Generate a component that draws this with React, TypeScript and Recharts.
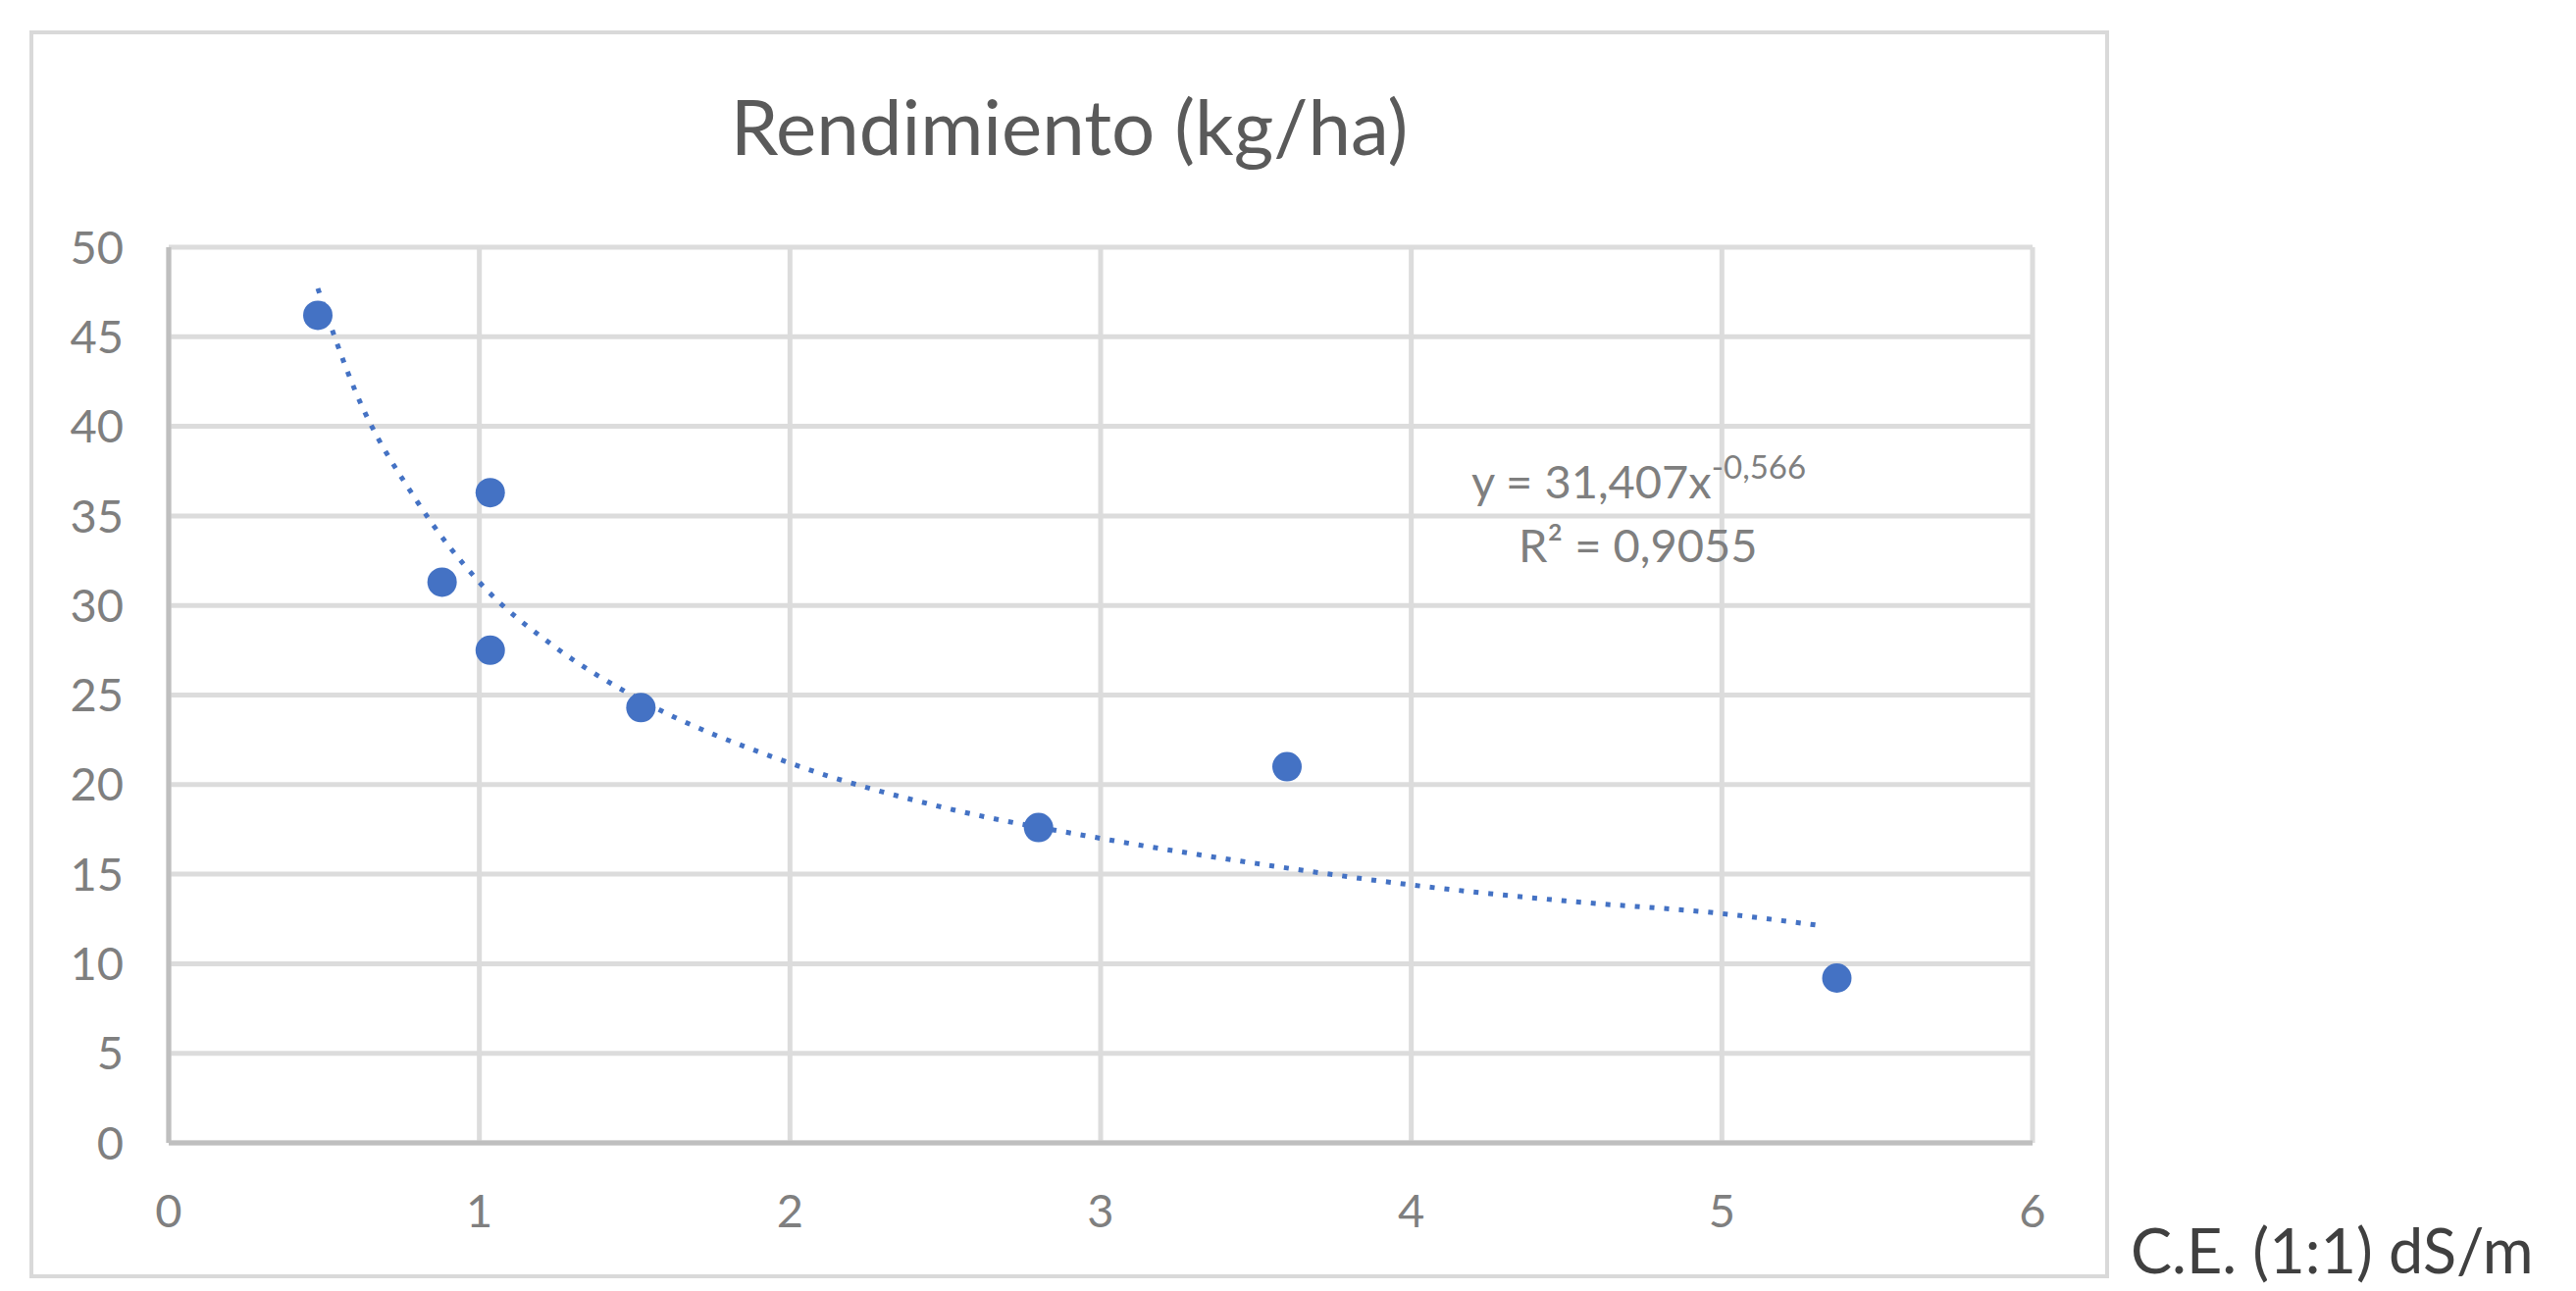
import React from "react";
import {
  ComposedChart,
  Scatter,
  Line,
  XAxis,
  YAxis,
  CartesianGrid,
  Customized,
} from "recharts";

// puntos medidos: C.E. (dS/m) vs rendimiento (kg/ha)
const ceValues = [0.48, 1.035, 0.88, 1.035, 1.52, 2.8, 3.6, 5.37];
const yieldValues = [46.2, 36.3, 31.3, 27.5, 24.3, 17.6, 21.0, 9.2];

// línea de tendencia potencial
const trendX = [0.48, 0.6, 0.8, 1.0, 1.25, 1.5, 2.0, 2.5, 3.0, 3.5, 4.0, 4.5, 5.0, 5.33];
const trendY = [47.7, 42.0, 35.8, 31.3, 27.6, 24.9, 21.2, 18.7, 17.0, 15.6, 14.4, 13.5, 12.8, 12.1];

const xTicks = [0, 1, 2, 3, 4, 5, 6];
const yTicks = [0, 5, 10, 15, 20, 25, 30, 35, 40, 45, 50];

const title = "Rendimiento (kg/ha)";
const xLabel = "C.E. (1:1) dS/m";
const eqMain = "y = 31,407x";
const eqExp = "-0,566";
const r2Text = "R² = 0,9055";

const points = ceValues.map((x, i) => ({ x, y: yieldValues[i] }));
const trend = trendX.map((x, i) => ({ x, y: trendY[i] }));

const BLUE = "#4472c4";
const FONT = "Lato, 'Open Sans', sans-serif";

const Frame = () => (
  <g>
    <rect x={32} y={33} width={2116} height={1268} fill="none" stroke="#d9d9d9" strokeWidth={4} />
  </g>
);

const Texts = () => (
  <g fontFamily={FONT}>
    <text x={1090} y={158} textAnchor="middle" fontSize={78} fill="#5a5a5a">
      {title}
    </text>
    <text x={1500} y={508} fontSize={47} fill="#7f7f7f">
      {eqMain}
      <tspan fontSize={33} dy={-20}>{eqExp}</tspan>
    </text>
    <text x={1548} y={573} fontSize={47} fill="#7f7f7f">
      {r2Text}
    </text>
    <text x={2172} y={1298} fontSize={63} fill="#404040">
      {xLabel}
    </text>
  </g>
);

const Dot = (props: any) => <circle cx={props.cx} cy={props.cy} r={15} fill={BLUE} />;

export default function App() {
  return (
    <div style={{ position: "absolute", left: 0, top: 0, width: 2626, height: 1316, background: "#fff" }}>
      <ComposedChart
        width={2626}
        height={1316}
        margin={{ top: 252, right: 554, bottom: 51, left: 72 }}
      >
        <Customized component={Frame} />
        <CartesianGrid stroke="#dcdcdc" strokeWidth={5} />
        <XAxis
          type="number"
          dataKey="x"
          domain={[0, 6]}
          ticks={xTicks}
          height={100}
          tickLine={false}
          tickMargin={47}
          axisLine={{ stroke: "#bfbfbf", strokeWidth: 5 }}
          tick={{ fontSize: 47, fill: "#7f7f7f", fontFamily: FONT }}
        />
        <YAxis
          type="number"
          dataKey="y"
          domain={[0, 50]}
          ticks={yTicks}
          width={100}
          tickLine={false}
          tickMargin={40}
          axisLine={{ stroke: "#bfbfbf", strokeWidth: 5 }}
          tick={{ fontSize: 47, fill: "#7f7f7f", fontFamily: FONT }}
        />
        <Line
          data={trend}
          dataKey="y"
          type="monotone"
          stroke={BLUE}
          strokeWidth={5}
          strokeDasharray="5 10"
          dot={false}
          activeDot={false}
          isAnimationActive={false}
        />
        <Scatter data={points} dataKey="y" fill={BLUE} shape={Dot} isAnimationActive={false} />
        <Customized component={Texts} />
      </ComposedChart>
    </div>
  );
}
